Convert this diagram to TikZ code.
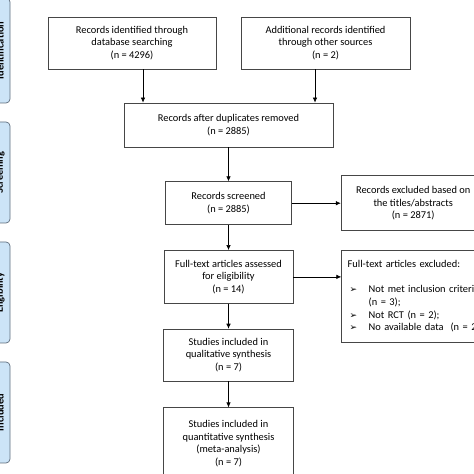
\documentclass[tikz,border=0pt]{standalone}
\usepackage{fontspec}
\setmainfont{Carlito}
\newfontfamily\bulletfont{DejaVu Sans}
\usetikzlibrary{positioning,arrows.meta,calc}
\definecolor{boxline}{RGB}{70,70,70}
\definecolor{tabblue}{RGB}{204,228,247}
\definecolor{tabline}{RGB}{95,110,125}

\begin{document}
\begin{tikzpicture}[>={Latex[length=5pt,width=4.5pt]}, font=\fontsize{10.4}{12.6}\selectfont]
    \tikzstyle{box} = [rectangle, draw=boxline, line width=0.7pt, fill=white, align=center, inner sep=4pt]
    \tikzstyle{stage} = [rectangle, rounded corners=4pt, draw=tabline, line width=0.7pt, fill=tabblue, rotate=90, minimum height=20pt, font=\fontsize{10.4}{12.6}\selectfont\bfseries]
    \tikzstyle{flow} = [->, line width=0.7pt]

    \useasboundingbox (0,0) rectangle (474pt,474pt);

    % Stage tabs on the left
    \node [stage, minimum width=105pt] (ident) at (0pt,423.5pt) {Identification};
    \node [stage, minimum width=101pt] (scr) at (0pt,301.5pt) {Screening};
    \node [stage, minimum width=101pt] (elg) at (0pt,181.5pt) {Eligibility};
    \node [stage, minimum width=101pt] (incl) at (0pt,61.5pt) {Included};

    % Records
    \node [box, minimum width=168pt, minimum height=52pt] (db) at (132pt,431pt) {Records identified through\\database searching\\(n = 4296)};
    \node [box, minimum width=169pt, minimum height=52pt] (other) at (325.5pt,431pt) {Additional records identified\\through other sources\\(n = 2)};
    \node [box, minimum width=209pt, minimum height=44pt] (dup) at (228.5pt,349pt) {Records after duplicates removed\\(n = 2885)};
    \node [box, minimum width=126pt, minimum height=43pt, below=34pt of dup] (screen) {Records screened\\(n = 2885)};
    \node [box, minimum width=144pt, minimum height=55pt, right=49pt of screen] (excl1) {Records excluded based on\\the titles/abstracts\\(n = 2871)};

    % Full texts
    \node [box, minimum width=129pt, minimum height=53pt, below=25pt of screen] (elig) {Full-text articles assessed\\for eligibility\\(n = 14)};
    \node [box, minimum width=144pt, minimum height=92pt, text width=170pt, inner xsep=6pt, align=left, anchor=north west] (excl2) at ([xshift=48pt]elig.north east) {Full-text articles excluded:\\[12.6pt]
        \makebox[21pt][l]{\hspace{2pt}\bulletfont\small ➢}Not met inclusion criteria\\
        \hspace*{21pt}(n = 3);\\
        \makebox[21pt][l]{\hspace{2pt}\bulletfont\small ➢}Not RCT (n = 2);\\
        \makebox[21pt][l]{\hspace{2pt}\bulletfont\small ➢}No available data~ (n = 2)};

    % Studies
    \node [box, minimum width=130pt, minimum height=52pt, below=25pt of elig] (qual) {Studies included in\\qualitative synthesis\\(n = 7)};
    \node [box, minimum width=130pt, minimum height=72pt, below=26pt of qual] (quant) {Studies included in\\quantitative synthesis\\(meta-analysis)\\(n = 7)};

    % Arrows
    \draw [flow] ([xshift=11pt]db.south) -- ([xshift=11pt]db.south |- dup.north);
    \draw [flow] ([xshift=-10.5pt]other.south) -- ([xshift=-10.5pt]other.south |- dup.north);
    \draw [flow] (dup) -- (screen);
    \draw [flow] (screen) -- (elig);
    \draw [flow] (elig) -- (qual);
    \draw [flow] (qual) -- (quant);
    \draw [flow] (screen.east) -- (screen.east -| excl1.west);
    \draw [flow] (elig.east) -- (elig.east -| excl2.west);
\end{tikzpicture}
\end{document}
